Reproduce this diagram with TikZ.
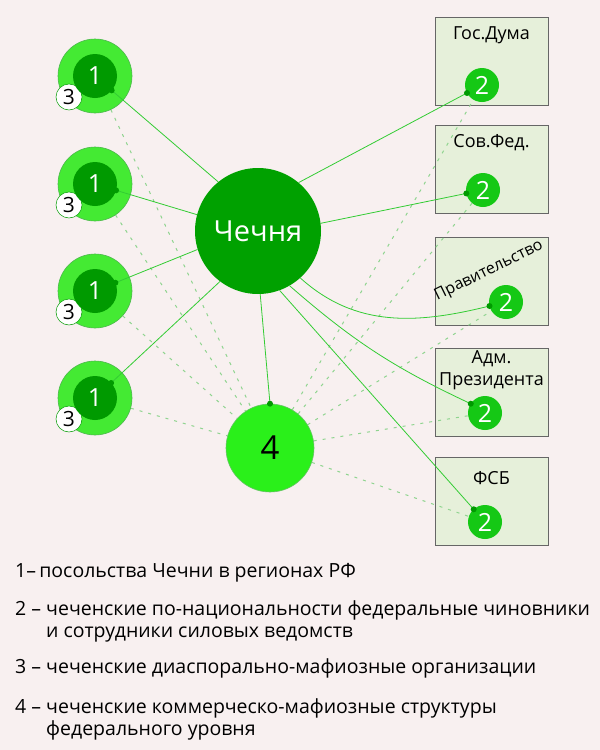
\documentclass[tikz,border=0pt]{standalone}
\usepackage{fontspec}
\setmainfont{Open Sans}
\usepackage{tikz}
\usetikzlibrary{positioning,calc,backgrounds}
\definecolor{bgpink}{HTML}{F8F0F0}
\definecolor{litegreen}{HTML}{44EA33}
\definecolor{darkgreen}{HTML}{009A00}
\definecolor{chechgreen}{HTML}{00A100}
\definecolor{fedgreen}{HTML}{2AF01A}
\definecolor{twogreen}{HTML}{15C815}
\definecolor{boxfill}{HTML}{E6F0DA}
\definecolor{boxline}{HTML}{666666}
\definecolor{linegreen}{HTML}{33CC33}
\definecolor{dashgreen}{HTML}{8FD48F}

\tikzset{
    embouter/.style={circle, fill=litegreen, draw=darkgreen!70, line width=0.6pt, minimum size=74pt, inner sep=0pt},
    embinner/.style={circle, fill=darkgreen, text=white, minimum size=44pt, inner sep=0pt, font=\fontsize{25}{25}\selectfont},
    diaspora/.style={circle, fill=white, draw=darkgreen, line width=0.5pt, minimum size=26pt, inner sep=0pt, font=\fontsize{21}{21}\selectfont},
    orgbox/.style={rectangle, fill=boxfill, draw=boxline, line width=1pt, minimum width=113pt, minimum height=88pt},
    boxtitle/.style={font=\fontsize{18}{22}\selectfont, align=center, inner sep=0pt},
    official/.style={circle, fill=twogreen, text=white, minimum size=34pt, inner sep=0pt, font=\fontsize{25}{25}\selectfont},
    link/.style={linegreen, line width=0.8pt},
    weaklink/.style={dashgreen, line width=1pt, dash pattern=on 3pt off 6pt},
    linkdot/.style={fill=darkgreen},
    legend/.style={anchor=north west, inner sep=0pt, font=\fontsize{19.5}{22}\selectfont}
}

\begin{document}
\begin{tikzpicture}[x=1pt, y=1pt]
    \useasboundingbox (0,0) rectangle (600,-750);

    % Chechnya
    \node[circle, fill=chechgreen, text=white, minimum size=126pt, inner sep=0pt,
          font=\fontsize{29}{29}\selectfont] (chechnya) at (258,-231) {Чечня};

    % Commercial structures
    \node[circle, fill=fedgreen, draw=darkgreen!60, line width=0.6pt, minimum size=88pt,
          inner sep=0pt, font=\fontsize{33}{33}\selectfont] (fed4) at (270,-448) {4};

    % Embassies in the regions
    \foreach \i/\y in {1/76,2/184,3/291,4/398} {
        \node[embouter] (emb\i) at (95,-\y) {};
        \node[diaspora] (dia\i) at (69,-\y-21) {3};
        \coordinate (in\i) at (95,-\y);
    }

    % Officials in the federal bodies
    \node[official] (duma2) at (482,-85) {2};
    \node[official] (sovfed2) at (483,-190) {2};
    \node[official] (prav2) at (506,-302) {2};
    \node[official] (adm2) at (485,-413) {2};
    \node[official] (fsb2) at (485,-522) {2};

    \begin{pgfonlayer}{background}
        \fill[bgpink] (0,0) rectangle (600,-750);

        % Federal bodies
        \node[orgbox] (duma) at (491.5,-61) {};
        \node[orgbox] (sovfed) at (491.5,-169) {};
        \node[orgbox] (prav) at (491.5,-281) {};
        \node[orgbox] (adm) at (491.5,-392) {};
        \node[orgbox] (fsb) at (491.5,-501) {};

        \node[boxtitle, below=10pt of duma.north] (dumat) {Гос.Дума};
        \node[boxtitle, below=10pt of sovfed.north] (sovfedt) {Сов.Фед.};
        \node[boxtitle, rotate=26, font=\fontsize{16}{16}\selectfont] (pravt) at (489,-271) {Правительство};
        \node[boxtitle, below=3pt of adm.north] (admt) {Адм.\\Президента};
        \node[boxtitle, below=15pt of fsb.north] (fsbt) {ФСБ};

        % Weak ties through the commercial structures
        \foreach \i in {1,...,4}
            \draw[weaklink] (emb\i) -- (fed4);
        \foreach \b in {duma,sovfed,prav,adm,fsb}
            \draw[weaklink] (fed4) -- (\b2);
    \end{pgfonlayer}

    % Direct ties
    \foreach \i/\a in {1/129,2/165,3/197,4/233} {
        \coordinate (end\i) at ($(in\i)!22pt!(chechnya.\a)$);
        \draw[link] (chechnya.\a) -- (end\i);
    }
    \coordinate (enddu) at ($(duma2)!17pt!(chechnya.50)$);
    \coordinate (endsf) at ($(sovfed2)!17pt!(chechnya.7)$);
    \coordinate (endpr) at ($(prav2)+(-16.5,-4)$);
    \coordinate (endad) at ($(adm2)!17pt!(chechnya.-60)$);
    \coordinate (endfs) at ($(fsb2)!17pt!(chechnya.-70)$);
    \draw[link] (chechnya.-88) -- (fed4.north);
    \draw[link] (chechnya.50) -- (enddu);
    \draw[link] (chechnya.7) -- (endsf);
    \draw[link] (chechnya.-48) to[out=-42, in=194] (endpr);
    \draw[link] (chechnya.-60) to[bend right=8] (endad);
    \draw[link] (chechnya.-70) -- (endfs);

    % Inner circles over the ties
    \foreach \i in {1,...,4}
        \node[embinner] (inner\i) at (in\i) {1};

    % Line ends
    \foreach \p in {end1,end2,end3,end4,enddu,endsf,endpr,endad,endfs}
        \fill[linkdot] (\p) circle (3pt);
    \fill[linkdot] (fed4.north) circle (3pt);

    % Legend
    \node[legend] (leg1) at (15,-563) {1–\,посольства Чечни в регионах РФ};
    \node[legend] (leg2) at (15,-600) {\begin{tabular}{@{}l@{\ }l@{}}2 – & чеченские по-национальности федеральные чиновники\\
        & и сотрудники силовых ведомств\end{tabular}};
    \node[legend] (leg3) at (15,-658) {3 – чеченские диаспорально-мафиозные организации};
    \node[legend] (leg4) at (15,-698) {\begin{tabular}{@{}l@{\ }l@{}}4 – & чеченские коммерческо-мафиозные структуры\\
        & федерального уровня\end{tabular}};
\end{tikzpicture}
\end{document}
